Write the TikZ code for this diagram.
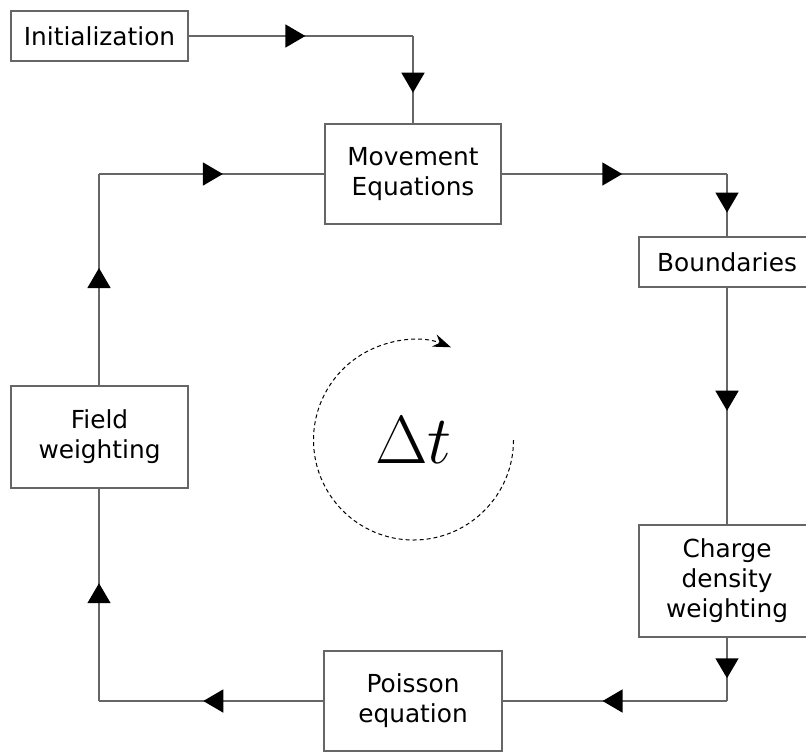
\documentclass[tikz,border=0pt]{standalone}
\usepackage{fix-cm}
\usepackage{fontspec}
\setmainfont{DejaVu Sans}
\usepackage{amsmath}
\usetikzlibrary{arrows.meta, decorations.markings}
\colorlet{linegray}{black!60}
\tikzset{block/.style={draw=linegray, line width=0.75pt, align=center, inner sep=0pt,
                       font=\fontsize{12.4}{15}\selectfont},
         flow/.style={draw=linegray, line width=0.75pt, postaction={decorate},
                      decoration={markings, mark=at position #1 with
                      {\arrow[black]{Triangle[length=10pt,width=11.5pt]}}}},
        }

\begin{document}
\begin{tikzpicture}[x=0.5pt,y=-0.5pt]
        \clip(0,0)rectangle(806,751);

        \node[block,minimum width=88.5pt,minimum height=25pt](init)at(99.5,36){Initialization};
        \node[block,minimum width=88pt,minimum height=50pt](move)at(413,174){Movement\\Equations};
        \node[block,minimum width=88pt,minimum height=25pt](bound)at(727,262){Boundaries};
        \node[block,minimum width=88pt,minimum height=56pt](charge)at(727,581){Charge\\density\\weighting};
        \node[block,minimum width=89pt,minimum height=50pt](poisson)at(413,701){Poisson\\equation};
        \node[block,minimum width=88.5pt,minimum height=51pt](field)at(99.5,437){Field\\weighting};

        \coordinate(c1)at(413,36);
        \coordinate(c2)at(727,174);
        \coordinate(c3)at(727,701);
        \coordinate(c4)at(99,701);
        \coordinate(c5)at(99,174);

        \draw[flow=0.52](init.east)--(c1);
        \draw[flow=0.65](c1)--(move.north);
        \draw[flow=0.535](move.east)--(c2);
        \draw[flow=0.62](c2)--(bound.north);
        \draw[flow=0.52](bound.south)--(charge.north);
        \draw[flow=0.64](charge.south)--(c3);
        \draw[flow=0.555](c3)--(poisson.east);
        \draw[flow=0.535](poisson.west)--(c4);
        \draw[flow=0.555](c4)--(c4|-field.south);
        \draw[flow=0.555](c5|-field.north)--(c5);
        \draw[flow=0.55](c5)--(move.west);

        \node(dt)at(413.5,440){\fontsize{34}{40}\selectfont$\Delta t$};
        \draw[line width=0.5pt, dash pattern=on 2pt off 1.5pt, -{Stealth[length=9pt,width=6.5pt,inset=3pt]}]
            ([xshift=50pt]dt.center)arc[start angle=0, end angle=292, radius=100];
\end{tikzpicture}
\end{document}
